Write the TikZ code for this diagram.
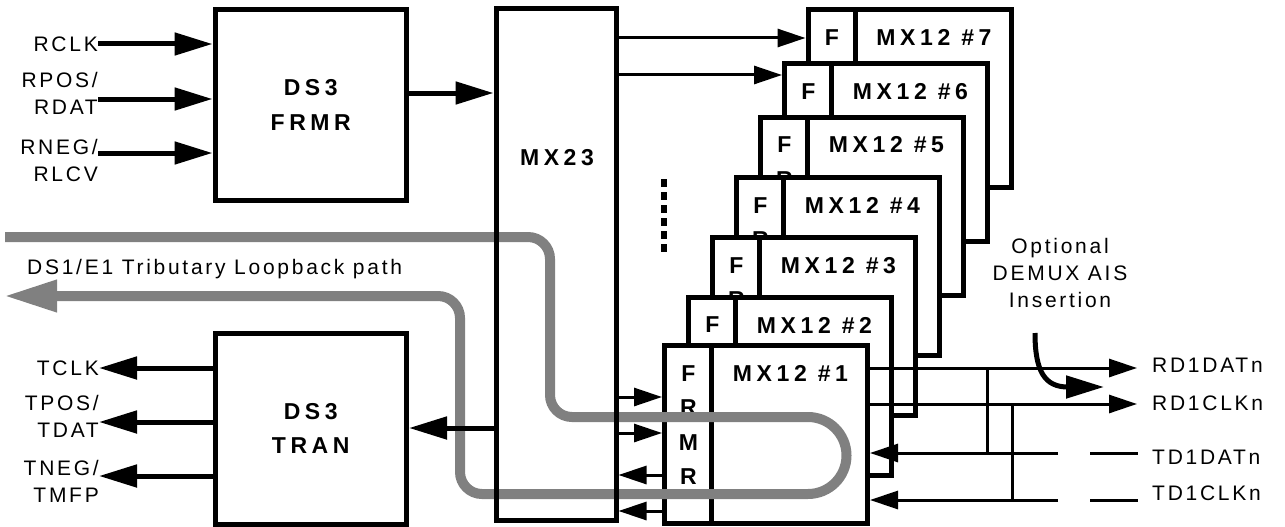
\documentclass[tikz,border=0pt]{standalone}
\usepackage{fontspec}
\setmainfont{Liberation Sans}
\newfontfamily\lblfont{Liberation Sans}[LetterSpace=13]
\newfontfamily\blkfont{Liberation Sans}[LetterSpace=20]
\usepackage{xcolor}
\usetikzlibrary{arrows.meta}
\definecolor{loopgray}{HTML}{808080}

\begin{document}
\begin{tikzpicture}[x=1pt,y=-1pt,
  blk/.style={draw,line width=5pt,inner sep=0pt,align=center,
    font=\blkfont\bfseries\fontsize{23}{34.5}\selectfont},
  mx/.style={blk,fill=white,minimum width=203pt,minimum height=178pt},
  btxt/.style={inner sep=0pt,font=\blkfont\bfseries\fontsize{23}{34.5}\selectfont},
  lbl/.style={inner sep=0pt,align=right,font=\lblfont\fontsize{21}{27}\selectfont},
  bus/.style={line width=5pt,-{Triangle[length=38pt,width=22pt]}},
  sig/.style={line width=3pt,-{Triangle[length=28pt,width=18pt]}},
  wire/.style={line width=3pt},
  loop/.style={line width=10pt,draw=loopgray,
    -{Triangle[length=53pt,width=30pt]}}]
\useasboundingbox (0,0) rectangle (1285,527);

% DS3 side
\node[blk,minimum width=191.5pt,minimum height=191pt] (frmr) at (310.75,105) {DS3\\FRMR};
\node[blk,minimum width=191.5pt,minimum height=191pt] (tran) at (310.75,428.5) {DS3\\TRAN};

% MX12 stack, back to front
\foreach \k/\L/\T in {7/808/9.5,6/784.5/63.5,5/760.5/117,4/736.5/177.5,3/712.5/237.5,2/688.5/297,1/664.5/345.5}{
  \node[mx] (mx\k) at ({\L+101.5},{\T+89}) {};
  \draw[line width=5pt] ({\L+47},\T) -- ({\L+47},{\T+178});
  \node[btxt] (mxlbl\k) at ({\L+126},{\T+28}) {MX12 \#\k};
  \foreach \c [count=\i] in {F,R,M,R}
    \node[btxt] (fr\k\i) at ({\L+24},{\T+28+34.5*(\i-1)}) {\c};
}
\draw[line width=6pt,dash pattern=on 8pt off 5pt] (664,179) -- (664,253);

% DS1 side
\node[lbl,anchor=west] (rdat) at (1152,365) {RD1DATn};
\node[lbl,anchor=west] (rclkn) at (1152,403) {RD1CLKn};
\node[lbl,anchor=west] (tdat) at (1152,457) {TD1DATn};
\node[lbl,anchor=west] (tclkn) at (1152,493) {TD1CLKn};
\coordinate (rdat tip) at (1137,368);
\coordinate (rclk tip) at (1137,404);
\coordinate (tdat brk) at (1058,453);
\coordinate (tdat stub) at (1090,453);
\coordinate (tdat end) at (1138,453);
\coordinate (tclk brk) at (1058,500);
\coordinate (tclk stub) at (1090,500);
\coordinate (tclk end) at (1138,500);
\coordinate (dtap) at (987,368);
\coordinate (ctap) at (1012,404);
\draw[sig] (mx1.east |- rdat tip) -- (rdat tip);
\draw[sig] (mx1.east |- rclk tip) -- (rclk tip);
\draw[sig] (tdat brk) -- (mx1.east |- tdat brk);
\draw[sig] (tclk brk) -- (mx1.east |- tclk brk);
\draw[wire] (tdat stub) -- (tdat end);
\draw[wire] (tclk stub) -- (tclk end);
\draw[wire] (dtap) -- (dtap |- tdat brk);
\draw[wire] (ctap) -- (ctap |- tclk brk);

\node[lbl,align=center] (ais) at (1060,273) {Optional\\DEMUX AIS\\Insertion};
\coordinate (ais start) at (1035,333);
\coordinate (ais end) at (1104,387);
\draw[bus] (ais start) .. controls (1035,372) and (1045,387) .. (1068,387) -- (ais end);

% loopback path
\draw[loop] (5,237) [rounded corners=22pt] -- (550,237) -- (550,417) [sharp corners] -- (808,417)
  arc(-90:90:38.5) -- (482,494) [rounded corners=22pt] -- (460,494) -- (460,296) [sharp corners] -- (4,296);
\node[lbl,anchor=west] (looplbl) at (27,269) {DS1/E1 Tributary Loopback path};

% MX23
\node[blk,minimum width=120pt,minimum height=511pt] (mx23) at (556,264.5) {};
\node[btxt] (mx23lbl) at (557,158) {MX23};

% line side
\node[lbl,anchor=east] (rclk) at (98,44) {RCLK};
\node[lbl,anchor=east] (rpos) at (98,93) {RPOS/\\RDAT};
\node[lbl,anchor=east] (rneg) at (98,160) {RNEG/\\RLCV};
\node[lbl,anchor=east] (tclk) at (99,368) {TCLK};
\node[lbl,anchor=east] (tpos) at (99,416.5) {TPOS/\\TDAT};
\node[lbl,anchor=east] (tneg) at (99,481) {TNEG/\\TMFP};
\draw[bus] (rclk.east) -- (rclk.east -| frmr.west);
\draw[bus] ([yshift=-6pt]rpos.east) -- ([yshift=-6pt]rpos.east -| frmr.west);
\draw[bus] ([yshift=7pt]rneg.east) -- ([yshift=7pt]rneg.east -| frmr.west);
\draw[bus] (tclk.east -| tran.west) -- (tclk.east);
\draw[bus] ([yshift=-5.5pt]tpos.east -| tran.west) -- ([yshift=-5.5pt]tpos.east);
\draw[bus] ([yshift=5pt]tneg.east -| tran.west) -- ([yshift=5pt]tneg.east);

% internal buses
\draw[bus] (frmr.east |- 0,93) -- (mx23.west |- 0,93);
\draw[bus] (mx23.west |- 0,428) -- (tran.east |- 0,428);
\draw[sig] (mx23.east |- 0,38) -- (mx7.west |- 0,38);
\draw[sig] (mx23.east |- 0,75) -- (mx6.west |- 0,75);
\draw[sig] (mx23.east |- 0,397) -- (mx1.west |- 0,397);
\draw[sig] (mx23.east |- 0,433) -- (mx1.west |- 0,433);
\draw[sig] (mx1.west |- 0,475) -- (mx23.east |- 0,475);
\draw[sig] (mx1.west |- 0,511) -- (mx23.east |- 0,511);
\end{tikzpicture}
\end{document}
